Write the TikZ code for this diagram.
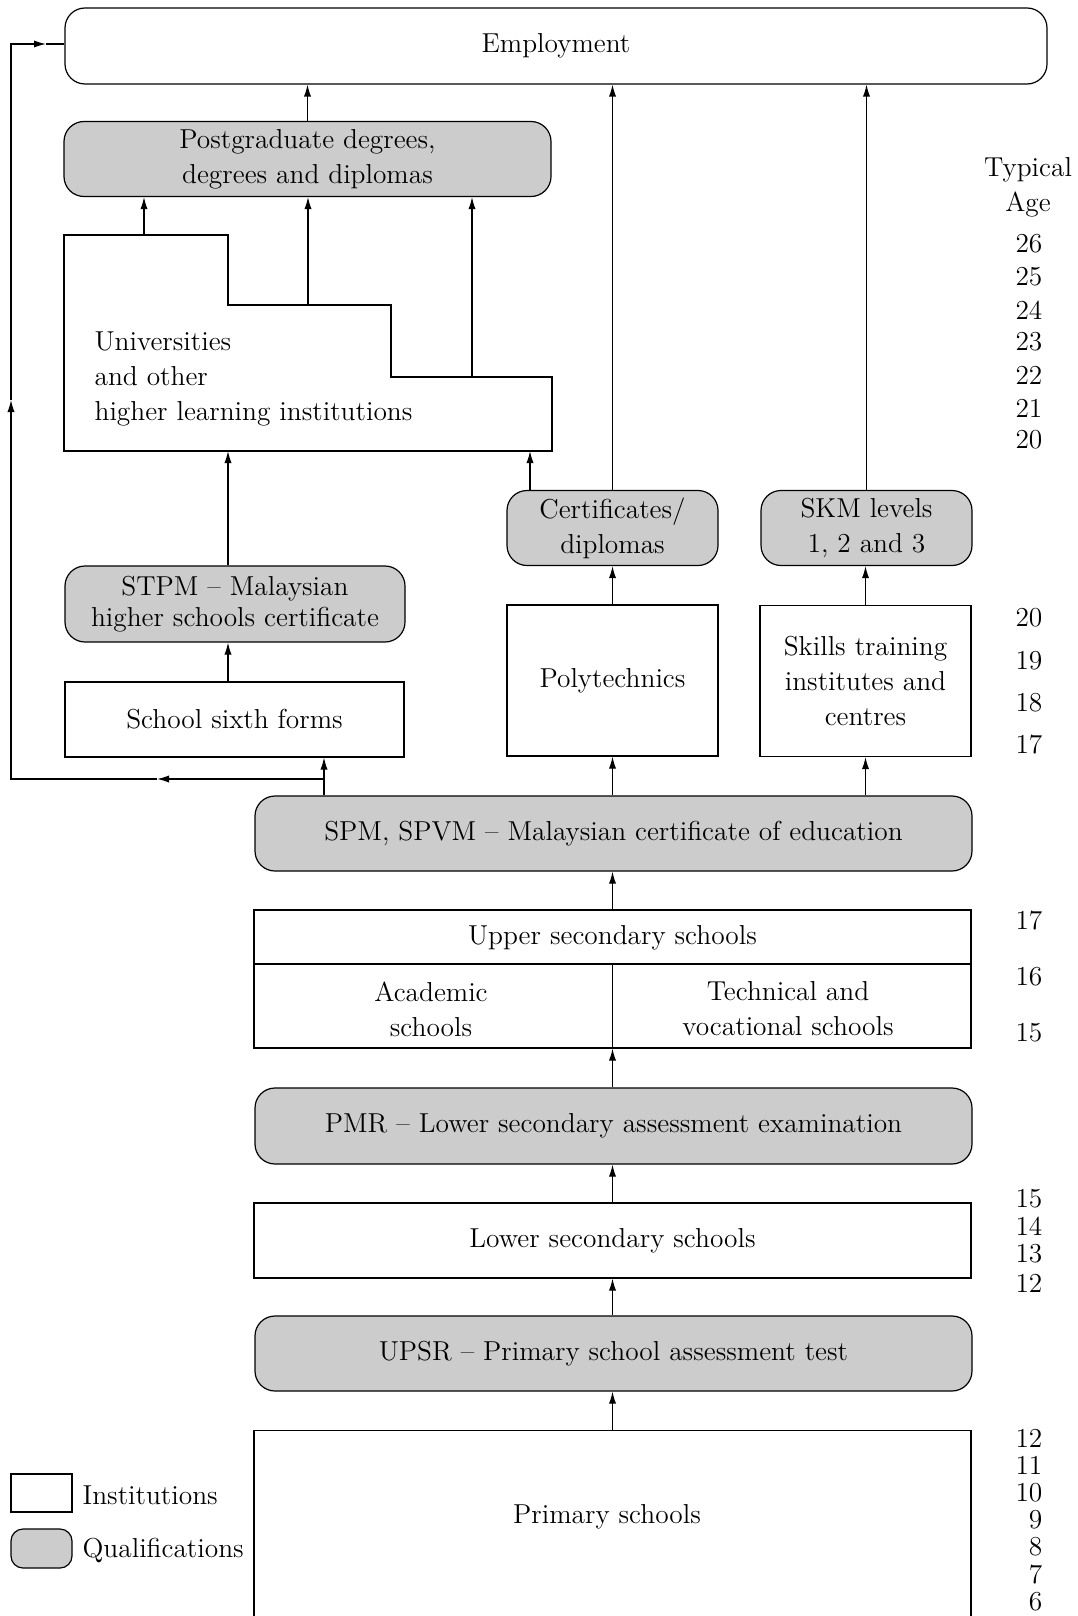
\documentclass[tikz,border=0pt]{standalone}
\usetikzlibrary{arrows.meta}
\begin{document}
\begin{tikzpicture}[x=0.5pt,y=-0.5pt,
  font=\fontsize{13.7}{17.5}\selectfont,
  line width=0.6pt,
  arr/.style={-{Latex[length=6pt,width=3.6pt]}},
  inst/.style={draw, fill=white, inner sep=0pt, align=center},
  qual/.style={draw, fill=black!20, rounded corners=10pt, inner sep=0pt, align=center},
  lbl/.style={inner sep=0pt, align=center},
]
\useasboundingbox (0,0) rectangle (1077,1616);
\clip (0,0) rectangle (1077,1616);

% Employment and top qualifications
\node[draw, rounded corners=10pt, inner sep=0pt, minimum width=491pt, minimum height=38pt] (emp) at (556,46) {Employment};
\node[qual, minimum width=243.5pt, minimum height=37.5pt] (pg) at (307.5,159) {Postgraduate degrees,\\degrees and diplomas};

% Universities stepped shape
\coordinate (uA) at (64,235);
\coordinate (uB) at (228,235);
\coordinate (uC) at (228,305);
\coordinate (uD) at (391,305);
\coordinate (uE) at (391,377);
\coordinate (uF) at (552,377);
\coordinate (uG) at (552,451);
\coordinate (uH) at (64,451);
\draw (uA) -- (uB) -- (uC) -- (uD) -- (uE) -- (uF) -- (uG) -- (uH) -- cycle;
\node[inner sep=0pt, align=left, anchor=west] (univ) at (94,379) {Universities\\and other\\higher learning institutions};
\coordinate (ut1) at (144,235);
\coordinate (ut2) at (308,305);
\coordinate (ut3) at (472,377);
\coordinate (ub1) at (228,451);
\coordinate (ub2) at (530,451);

% Middle tier
\node[qual, minimum width=105.5pt, minimum height=37.5pt] (cert) at (612.5,528) {Certificates/\\diplomas};
\node[qual, minimum width=105.5pt, minimum height=37.5pt] (skm) at (866.5,528) {SKM levels\\1, 2 and 3};
\node[qual, font=\fontsize{13.7}{15.5}\selectfont, minimum width=170pt, minimum height=38pt] (stpm) at (235,604) {STPM -- Malaysian\\higher schools certificate};
\node[inst, minimum width=169.5pt, minimum height=37.5pt] (sixth) at (234.5,719.5) {School sixth forms};
\node[inst, minimum width=105.5pt, minimum height=75.5pt] (poly) at (612.5,680.5) {Polytechnics};
\node[inst, minimum width=105.5pt, minimum height=75.5pt] (skills) at (865.5,681) {Skills training\\institutes and\\centres};

% Lower tiers
\node[qual, minimum width=358.5pt, minimum height=37.5pt] (spm) at (613.5,833.5) {SPM, SPVM -- Malaysian certificate of education};
\node[inst, minimum width=358.5pt, minimum height=69pt] (upper) at (612.5,979) {};
\draw (upper.west |- 0,964) -- (upper.east |- 0,964);
\draw (612.5,964) -- (612.5,1048);
\node[lbl] (uptxt) at (612.5,938) {Upper secondary schools};
\node[lbl] (acad) at (431,1009) {Academic\\schools};
\node[lbl] (tech) at (788,1009) {Technical and\\vocational schools};
\node[qual, minimum width=358.5pt, minimum height=38pt] (pmr) at (613.5,1126) {PMR -- Lower secondary assessment examination};
\node[inst, minimum width=358.5pt, minimum height=37.5pt] (lower) at (612.5,1240.5) {Lower secondary schools};
\node[qual, minimum width=358.5pt, minimum height=37.5pt] (upsr) at (613.5,1353.5) {UPSR -- Primary school assessment test};
\node[inst, minimum width=358.5pt, minimum height=120pt, anchor=north] (prim) at (612.5,1430) {};
\node[lbl] (primtxt) at (607,1517) {Primary schools};

% Arrows
\draw[arr] (pg.north) -- (pg.north |- emp.south);
\draw[arr] (ut1) -- (ut1 |- pg.south);
\draw[arr] (ut2) -- (ut2 |- pg.south);
\draw[arr] (ut3) -- (ut3 |- pg.south);
\draw[arr] (cert.north) -- (cert.north |- emp.south);
\draw[arr] (skm.north) -- (skm.north |- emp.south);
\draw[arr] (stpm.north -| ub1) -- (ub1);
\draw[arr] (cert.north -| ub2) -- (ub2);
\draw[arr] (sixth.north -| ub1) -- (stpm.south -| ub1);
\draw[arr] (poly.north) -- (cert.south);
\draw[arr] (skills.north) -- (skills.north |- skm.south);

\coordinate (fb0) at (324,779);
\coordinate (fbm1) at (157,779);
\coordinate (fb1) at (11,779);
\coordinate (fbm2) at (11,400);
\coordinate (fb2) at (11,44);
\coordinate (fbm3) at (46,44);
\draw[arr] (spm.north -| fb0) -- (sixth.south -| fb0);
\draw[arr] (fb0) -- (fbm1);
\draw[arr] (fbm1) -- (fb1) -- (fbm2);
\draw[arr] (fbm2) -- (fb2) -- (fbm3);
\draw (fbm3) -- (fbm3 -| emp.west);
\draw[arr] (spm.north -| poly.south) -- (poly.south);
\draw[arr] (spm.north -| skills.south) -- (skills.south);
\draw[arr] (upper.north) -- (upper.north |- spm.south);
\draw[arr] (pmr.north -| upper.south) -- (upper.south);
\draw[arr] (lower.north) -- (lower.north |- pmr.south);
\draw[arr] (upsr.north -| lower.south) -- (lower.south);
\draw[arr] (prim.north) -- (prim.north |- upsr.south);

% Ages
\node[lbl] (typ) at (1028,170) {Typical};
\node[lbl] (agehd) at (1028,205) {Age};
\foreach \t/\y [count=\i] in {26/244,25/277,24/310,23/342,22/375,21/408,20/440,
  20/618,19/661,18/703,17/745,
  17/921,16/977,15/1033,
  15/1199,14/1226,13/1254,12/1283,
  12/1438,11/1465,10/1493,9/1520,8/1547,7/1575,6/1602}
  \node[inner sep=0pt, anchor=east] (age\i) at (1043,\y) {\t};

% Legend
\node[inst, minimum width=30.5pt, minimum height=19pt] (leginst) at (41.5,1493) {};
\node[qual, rounded corners=6pt, minimum width=30.5pt, minimum height=19.5pt] (legqual) at (41.5,1548.5) {};
\node[inner sep=0pt, anchor=west] (legitxt) at (82,1495) {Institutions};
\node[inner sep=0pt, anchor=west] (legqtxt) at (82,1550) {Qualifications};
\end{tikzpicture}
\end{document}
